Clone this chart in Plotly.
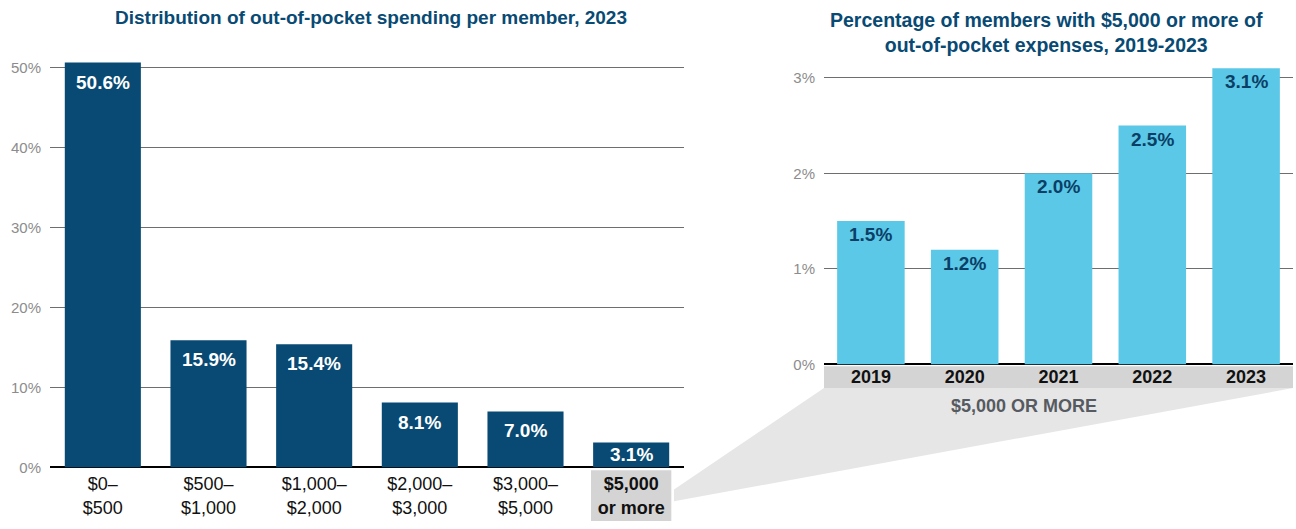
import plotly.graph_objects as go

# Left panel: distribution of out-of-pocket spending per member, 2023
spend_bands = ["$0–<br>$500", "$500–<br>$1,000", "$1,000–<br>$2,000",
               "$2,000–<br>$3,000", "$3,000–<br>$5,000", "<b>$5,000<br>or more</b>"]
spend_share = [50.6, 15.9, 15.4, 8.1, 7.0, 3.1]
left_ticks = [0, 10, 20, 30, 40, 50]

# Right panel: share of members with $5,000+ out-of-pocket, by year
years = ["2019", "2020", "2021", "2022", "2023"]
high_share = [1.5, 1.2, 2.0, 2.5, 3.1]
right_ticks = [0, 1, 2, 3]

NAVY = "#084a73"
SKY = "#5bc8e8"
GRID = "#6d6e71"
TICK_GRAY = "#8c8c8c"
BAND_GRAY = "#d4d4d4"
WEDGE_GRAY = "#e6e6e6"

W, H = 1296, 529
LEFT_PX_PER_UNIT = 8.125   # vertical pixels per percentage point, left panel
RIGHT_PX_PER_UNIT = 97.0   # vertical pixels per percentage point, right panel


def px(x, y):
    """Convert pixel position to paper coordinates."""
    return x / W, (H - y) / H


fig = go.Figure()

left_ids = list(range(len(spend_bands)))
fig.add_bar(x=left_ids, y=spend_share, xaxis="x", yaxis="y",
            marker=dict(color=NAVY, line=dict(width=0)), width=0.72,
            hoverinfo="skip")

right_ids = list(range(len(years)))
fig.add_bar(x=right_ids, y=high_share, xaxis="x2", yaxis="y2",
            marker=dict(color=SKY, line=dict(width=0)), width=0.72,
            hoverinfo="skip")

annotations = []
for i, v in zip(left_ids, spend_share):
    # short bars keep their label tight to the top edge
    shift = -7 if v * LEFT_PX_PER_UNIT > 40 else 1
    annotations.append(dict(x=i, y=v, xref="x", yref="y", text=f"<b>{v:.1f}%</b>",
                            showarrow=False, yanchor="top", yshift=shift,
                            font=dict(family="Liberation Sans", size=19, color="white")))
for i, v in zip(right_ids, high_share):
    annotations.append(dict(x=i, y=v, xref="x2", yref="y2", text=f"<b>{v:.1f}%</b>",
                            showarrow=False, yanchor="top", yshift=-1,
                            font=dict(family="Liberation Sans", size=19, color="#0b3f66")))

# Panel titles
tx, ty = px(371, 18)
annotations.append(dict(x=tx, y=ty, xref="paper", yref="paper",
                        text="<b>Distribution of out-of-pocket spending per member, 2023</b>",
                        showarrow=False, xanchor="center", yanchor="middle",
                        font=dict(family="Liberation Sans", size=19, color=NAVY)))
tx, ty = px(1046, 33)
annotations.append(dict(x=tx, y=ty, xref="paper", yref="paper",
                        text="<b>Percentage of members with $5,000 or more of<br>out-of-pocket expenses, 2019-2023</b>",
                        showarrow=False, xanchor="center", yanchor="middle",
                        font=dict(family="Liberation Sans", size=19.5, color=NAVY)))

# Band caption below the yearly panel
tx, ty = px(1024, 412)
annotations.append(dict(x=tx, y=ty, xref="paper", yref="paper",
                        text="<b>$5,000 OR MORE</b>", showarrow=False,
                        xanchor="center", yanchor="middle",
                        font=dict(family="Liberation Sans", size=18, color="#565a61")))

shapes = []
# Connector wedge from the "$5,000 or more" label to the yearly panel
pts = [px(674, 497), px(824, 394), px(1293, 394), px(674, 509)]
path = "M " + " L ".join(f"{x},{y}" for x, y in pts) + " Z"
shapes.append(dict(type="path", path=path, xref="paper", yref="paper",
                   fillcolor=WEDGE_GRAY, line=dict(width=0), layer="below"))
# Highlight box behind the last left category label
_, by1 = px(0, 477.5)
shapes.append(dict(type="rect", xref="x", yref="paper",
                   x0=left_ids[-1] - 0.38, x1=left_ids[-1] + 0.38, y0=0, y1=by1,
                   fillcolor=BAND_GRAY, line=dict(width=0), layer="below"))
# Grey band behind the year labels
_, ry0 = px(0, 394)
_, ry1 = px(0, 372)
shapes.append(dict(type="rect", xref="x2 domain", yref="paper",
                   x0=0, x1=1, y0=ry0, y1=ry1,
                   fillcolor=BAND_GRAY, line=dict(width=0), layer="below"))

# Axis placement (pixels -> paper)
lx0, _ = px(50, 0)
lx1, _ = px(684, 0)
rx0, _ = px(824, 0)
rx1, _ = px(1293, 0)
_, ly0 = px(0, 474.6)
left_top = 52
_, ly1 = px(0, 474.6 - left_top * LEFT_PX_PER_UNIT)
_, ry_0 = px(0, 370)
right_top = 3.2
_, ry_1 = px(0, 370 - right_top * RIGHT_PX_PER_UNIT)

fig.update_layout(
    autosize=False,
    width=W, height=H,
    margin=dict(l=0, r=0, t=0, b=0, pad=0),
    paper_bgcolor="white", plot_bgcolor="white",
    showlegend=False,
    annotations=annotations,
    shapes=shapes,
    xaxis=dict(domain=[lx0, lx1], range=[-0.5, 5.5], tickmode="array",
               tickvals=left_ids, ticktext=spend_bands, showgrid=False,
               showline=False, zeroline=False, ticks="", ticklabelstandoff=4,
               tickfont=dict(family="Liberation Sans", size=18, color="#111111"),
               fixedrange=True),
    yaxis=dict(domain=[ly0, ly1], range=[0, left_top], tickmode="array",
               tickvals=left_ticks, ticktext=[f"{t}%" for t in left_ticks],
               showgrid=True,
               gridcolor=GRID, gridwidth=1, zeroline=True, zerolinecolor="black",
               zerolinewidth=2, showline=False, ticks="", ticklabelstandoff=8,
               tickfont=dict(family="Liberation Sans", size=15, color=TICK_GRAY),
               fixedrange=True),
    xaxis2=dict(domain=[rx0, rx1], range=[-0.5, 4.5], anchor="y2", tickmode="array",
                tickvals=right_ids, ticktext=[f"<b>{y}</b>" for y in years],
                showgrid=False, showline=False, zeroline=False, ticks="",
                ticklabelstandoff=0,
                tickfont=dict(family="Liberation Sans", size=18, color="#111111"),
                fixedrange=True),
    yaxis2=dict(domain=[ry_0, ry_1], range=[0, right_top], anchor="x2",
                tickmode="array", tickvals=right_ticks,
                ticktext=[f"{t}%" for t in right_ticks],
                showgrid=True, gridcolor=GRID, gridwidth=1, zeroline=True,
                zerolinecolor="black", zerolinewidth=2, showline=False, ticks="",
                ticklabelstandoff=8,
                tickfont=dict(family="Liberation Sans", size=15, color=TICK_GRAY),
                fixedrange=True),
)

fig.write_html("out.html", config={"displayModeBar": False, "responsive": False})
